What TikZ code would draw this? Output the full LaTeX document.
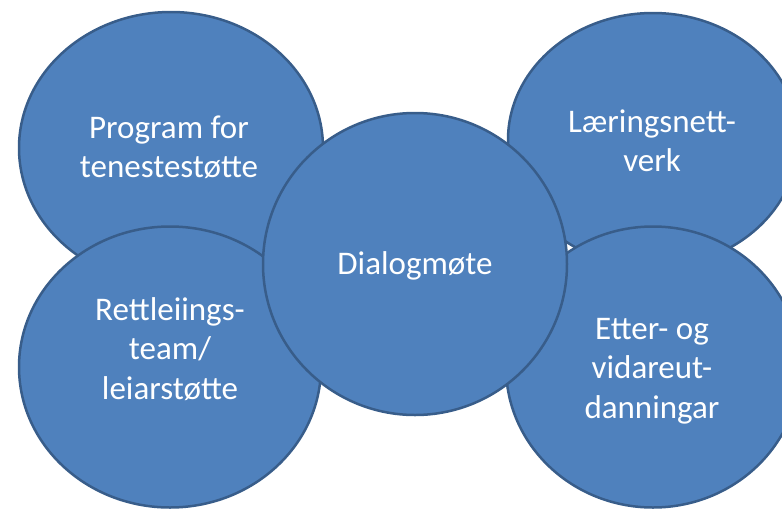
\documentclass[tikz,border=0pt]{standalone}
\usepackage{fontspec}
\setmainfont{Carlito}
\usetikzlibrary{shapes.geometric}
\definecolor{bubblefill}{HTML}{4F81BD}
\definecolor{bubbleline}{HTML}{385D8A}
\tikzset{
    bubble/.style={ellipse, draw=bubbleline, fill=bubblefill, line width=2.5pt, inner sep=0pt},
    bubbletext/.style={text=white, align=center, inner sep=0pt, font=\fontsize{33}{39.5}\selectfont}
}
\begin{document}
\begin{tikzpicture}[x=1pt,y=-1pt]
        \useasboundingbox (0,0) rectangle (782,509);
        \clip (0,0) rectangle (782,509);
        \begin{scope}
            % the four outer bubbles, then the middle one on top
            \node [bubble, minimum width=304pt, minimum height=272pt] (program) at (171,148) {};
            \node [bubble, minimum width=302pt, minimum height=281pt] (rettleiing) at (170,367) {};
            \node [bubble, minimum width=290pt, minimum height=254pt] (laering) at (653,140) {};
            \node [bubble, minimum width=294pt, minimum height=281pt] (etter) at (653,367) {};
            \node [bubble, minimum width=304pt, minimum height=302pt] (dialog) at (415,264) {};
            \node [bubbletext] (program-txt) at (169,150) {\strut Program for\\tenestestøtte\strut};
            \node [bubbletext] (laering-txt) at (652,144) {\strut Læringsnett-\\verk\strut};
            \node [bubbletext] (rettleiing-txt) at (170,352) {\strut Rettleiings-\\team/\\leiarstøtte\strut};
            \node [bubbletext] (etter-txt) at (652,371) {\strut Etter- og\\vidareut-\\danningar\strut};
            \node [bubbletext] (dialog-txt) at (415,267) {\strut Dialogmøte\strut};
        \end{scope}
    \end{tikzpicture}
\end{document}
